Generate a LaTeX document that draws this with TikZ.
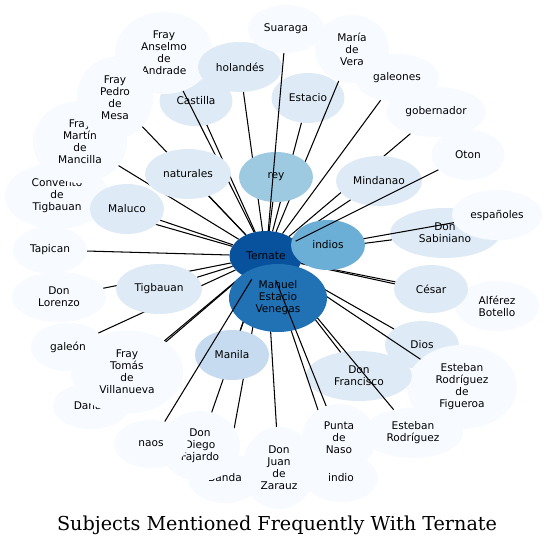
\documentclass[tikz,border=0pt]{standalone}
\usepackage{fontspec}
\newfontfamily\nodefont{DejaVu Sans}
\newfontfamily\titlefont{DejaVu Serif}
\usetikzlibrary{shapes.geometric}
\definecolor{hubA}{HTML}{08519C}
\definecolor{hubB}{HTML}{2171B5}
\definecolor{lvA}{HTML}{6BAED6}
\definecolor{lvB}{HTML}{9ECAE1}
\definecolor{lvC}{HTML}{C6DBEF}
\definecolor{lvD}{HTML}{DEEBF7}
\definecolor{lvE}{HTML}{F7FBFF}
\begin{document}
\begin{tikzpicture}[x=1pt,y=-1pt,
  gn/.style={ellipse, inner sep=0pt, align=center, text=black,
    font=\nodefont\fontsize{10.6}{12}\selectfont},
  sz/.style 2 args={minimum width=#1pt, minimum height=#2pt},
  lt/.style={gn, fill=lvE},
  md/.style={gn, fill=lvD},
  conn/.style={draw=black, line width=1.05pt}]
\useasboundingbox[fill=white] (0,0) rectangle (547,547);
% hub
\node[gn, fill=hubA, sz={73}{50}] (T) at (266,256) {Ternate};
% upper left
\node[md, sz={73}{50}] (castilla) at (196,101) {Castilla};
\draw[conn] (T) -- (castilla);
\node[lt, sz={98}{82}] (anselmo) at (164,53) {Fray\\Anselmo\\de\\Andrade};
\draw[conn] (T) -- (anselmo);
\node[md, sz={84}{50}] (holandes) at (240,67) {holandés};
\draw[conn] (T) -- (holandes);
\node[lt, sz={104}{66}] (convento) at (57,196) {Convento\\de\\Tigbauan};
\draw[conn] (T) -- (convento);
\node[lt, sz={94}{82}] (martin) at (80,142) {Fray\\Martín\\de\\Mancilla};
\draw[conn] (T) -- (martin);
\node[lt, sz={76}{82}] (pedro) at (115,98) {Fray\\Pedro\\de\\Mesa};
\draw[conn] (T) -- (pedro);
\node[md, sz={86}{50}] (naturales) at (188,174) {naturales};
\draw[conn] (T) -- (naturales);
\node[md, sz={74}{50}] (maluco) at (127,209) {Maluco};
\draw[conn] (T) -- (maluco);
\node[lt, sz={74}{47}] (tapican) at (50,250) {Tapican};
\draw[conn] (T) -- (tapican);
% lower left
\node[lt, sz={76}{46}] (danao) at (91,406) {Danao};
\draw[conn] (T) -- (danao);
\node[lt, sz={112}{83}] (tomas) at (127,372) {Fray\\Tomás\\de\\Villanueva};
\draw[conn] (T) -- (tomas);
\node[lt, sz={74}{48}] (galeon) at (68,347) {galeón};
\draw[conn] (T) -- (galeon);
\node[lt, sz={94}{50}] (lorenzo) at (59,297) {Don\\Lorenzo};
\draw[conn] (T) -- (lorenzo);
\node[md, sz={86}{50}] (tigbauan) at (159,289) {Tigbauan};
\draw[conn] (T) -- (tigbauan);
% upper middle and right
\node[md, sz={73}{50}] (estacio) at (308,98) {Estacio};
\draw[conn] (T) -- (estacio);
\node[lt, sz={74}{68}] (maria) at (352,49) {María\\de\\Vera};
\draw[conn] (T) -- (maria);
\node[gn, fill=lvB, sz={74}{50}] (rey) at (276,177) {rey};
\draw[conn] (T) -- (rey);
\node[lt, sz={76}{48}] (suaraga) at (286,29) {Suaraga};
\draw[conn] (T) -- (suaraga);
\node[lt, sz={100}{50}] (gobernador) at (436,112) {gobernador};
\draw[conn] (T) -- (gobernador);
\node[md, sz={86}{50}] (mindanao) at (379,181) {Mindanao};
\draw[conn] (T) -- (mindanao);
\node[lt, sz={84}{48}] (galeones) at (397,78) {galeones};
\draw[conn] (T) -- (galeones);
% right
\node[md, sz={110}{50}] (sabiniano) at (445,233) {Don\\Sabiniano};
\draw[conn] (T) -- (sabiniano);
\node[lt, sz={90}{50}] (espanoles) at (497,215) {españoles};
\draw[conn] (T) -- (espanoles);
\node[lt, sz={84}{50}] (botello) at (497,306) {Alférez\\Botello};
\draw[conn] (T) -- (botello);
\node[md, sz={74}{48}] (cesar) at (431,289) {César};
\draw[conn] (T) -- (cesar);
\node[md, sz={74}{48}] (dios) at (422,345) {Dios};
\draw[conn] (T) -- (dios);
\node[lt, sz={110}{84}] (figueroa) at (462,387) {Esteban\\Rodríguez\\de\\Figueroa};
\draw[conn] (T) -- (figueroa);
\node[md, sz={106}{50}] (francisco) at (359,376) {Don\\Francisco};
\draw[conn] (T) -- (francisco);
\node[lt, sz={100}{50}] (esteban) at (413,433) {Esteban\\Rodríguez};
\draw[conn] (T) -- (esteban);
% bottom
\node[lt, sz={74}{50}] (banda) at (225,478) {Banda};
\draw[conn] (T) -- (banda);
\node[lt, sz={80}{70}] (diego) at (200,446) {Don\\Diego\\Fajardo};
\draw[conn] (T) -- (diego);
\node[gn, fill=lvC, sz={74}{50}] (manila) at (232,355) {Manila};
\draw[conn] (T) -- (manila);
\node[lt, sz={74}{82}] (juan) at (279,468) {Don\\Juan\\de\\Zarauz};
\draw[conn] (T) -- (juan);
\node[lt, sz={74}{48}] (indio) at (341,478) {indio};
\draw[conn] (T) -- (indio);
\node[gn, fill=hubB, sz={98}{68}] (manuel) at (278,298) {Manuel\\Estacio\\Venegas};
\node[gn, fill=lvA, sz={74}{50}] (indios) at (328,245) {indios};
\node[lt, sz={73}{50}] (oton) at (468,155) {Oton};
\draw[conn] (T) -- (oton);
\node[lt, sz={74}{48}] (naos) at (151,444) {naos};
\draw[conn] (T) -- (naos);
\node[lt, sz={74}{68}] (punta) at (339,438) {Punta\\de\\Naso};
\draw[conn] (T) -- (punta);
% title
\node[font=\titlefont\fontsize{19.2}{22}\selectfont, inner sep=0pt] (title) at (277,525.5) {Subjects Mentioned Frequently With Ternate};
\end{tikzpicture}
\end{document}
